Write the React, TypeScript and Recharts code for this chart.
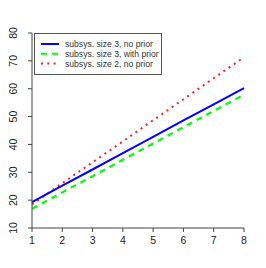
import React from "react";
import { LineChart, Line, XAxis, YAxis } from "recharts";

const xValues = [1, 2, 3, 4, 5, 6, 7, 8];
const size3NoPrior = [19.3, 25.2, 31.0, 36.9, 42.7, 48.6, 54.4, 60.2];
const size3WithPrior = [16.9, 22.8, 28.6, 34.5, 40.3, 46.2, 52.0, 57.9];
const size2NoPrior = [18.5, 26.1, 33.6, 41.1, 48.7, 56.2, 63.8, 71.3];
const xTicks = [1, 2, 3, 4, 5, 6, 7, 8];
const yTicks = [10, 20, 30, 40, 50, 60, 70, 80];

const seriesNames = [
  "subsys. size 3, no prior",
  "subsys. size 3, with prior",
  "subsys. size 2, no prior",
];

const data = xValues.map((x, i) => ({
  x,
  a: size3NoPrior[i],
  b: size3WithPrior[i],
  c: size2NoPrior[i],
}));

const FONT = "'Liberation Sans', Arial, Helvetica, sans-serif";
const AXIS = "#444";

const YTick = (props: any) => {
  const { x, y, payload } = props;
  return (
    <text
      x={0}
      y={0}
      transform={`translate(${x - 9},${y}) rotate(-90)`}
      textAnchor="middle"
      fontSize={10.5}
      fontFamily={FONT}
      fill="#222"
    >
      {payload.value}
    </text>
  );
};

const XTick = (props: any) => {
  const { x, y, payload } = props;
  return (
    <text
      x={x}
      y={y + 10}
      textAnchor="middle"
      fontSize={10.5}
      fontFamily={FONT}
      fill="#222"
    >
      {payload.value}
    </text>
  );
};

const legendStyles = [
  { color: "#0000ff", dash: undefined as string | undefined },
  { color: "#00ff00", dash: "6 5" },
  { color: "#ff2020", dash: "2 4.3" },
];

const LegendBox = () => (
  <svg width={128} height={42} style={{ display: "block" }}>
    <rect x={0.5} y={0.5} width={127} height={41} fill="#fff" stroke="#555" strokeWidth={1} />
    {seriesNames.map((name, i) => (
      <g key={name}>
        <line
          x1={7}
          x2={25}
          y1={11 + i * 9.8}
          y2={11 + i * 9.8}
          stroke={legendStyles[i].color}
          strokeWidth={2}
          strokeDasharray={legendStyles[i].dash}
        />
        <text x={31} y={14.3 + i * 9.8} fontSize={8.6} fontFamily={FONT} fill="#333">
          {name}
        </text>
      </g>
    ))}
  </svg>
);

export default function App() {
  return (
    <div style={{ position: "absolute", left: 0, top: 0, width: 266, height: 268, background: "#fff" }}>
      <LineChart
        width={266}
        height={268}
        data={data}
        margin={{ top: 33, right: 22, bottom: 0, left: 0 }}
      >
        <XAxis
          dataKey="x"
          type="number"
          domain={[1, 8]}
          ticks={xTicks}
          height={40}
          stroke={AXIS}
          tickSize={4}
          tick={<XTick />}
          interval={0}
        />
        <YAxis
          type="number"
          domain={[10, 80]}
          ticks={yTicks}
          width={32}
          stroke={AXIS}
          tickSize={4}
          tick={<YTick />}
          interval={0}
        />
        <Line
          dataKey="c"
          stroke="#ff2020"
          strokeWidth={2}
          strokeDasharray="2 4.3"
          dot={false}
          isAnimationActive={false}
        />
        <Line
          dataKey="b"
          stroke="#00ff00"
          strokeWidth={2.2}
          strokeDasharray="6 5"
          dot={false}
          isAnimationActive={false}
        />
        <Line
          dataKey="a"
          stroke="#0000ff"
          strokeWidth={2}
          dot={false}
          isAnimationActive={false}
        />
      </LineChart>
      <div style={{ position: "absolute", left: 34, top: 33 }}>
        <LegendBox />
      </div>
    </div>
  );
}
